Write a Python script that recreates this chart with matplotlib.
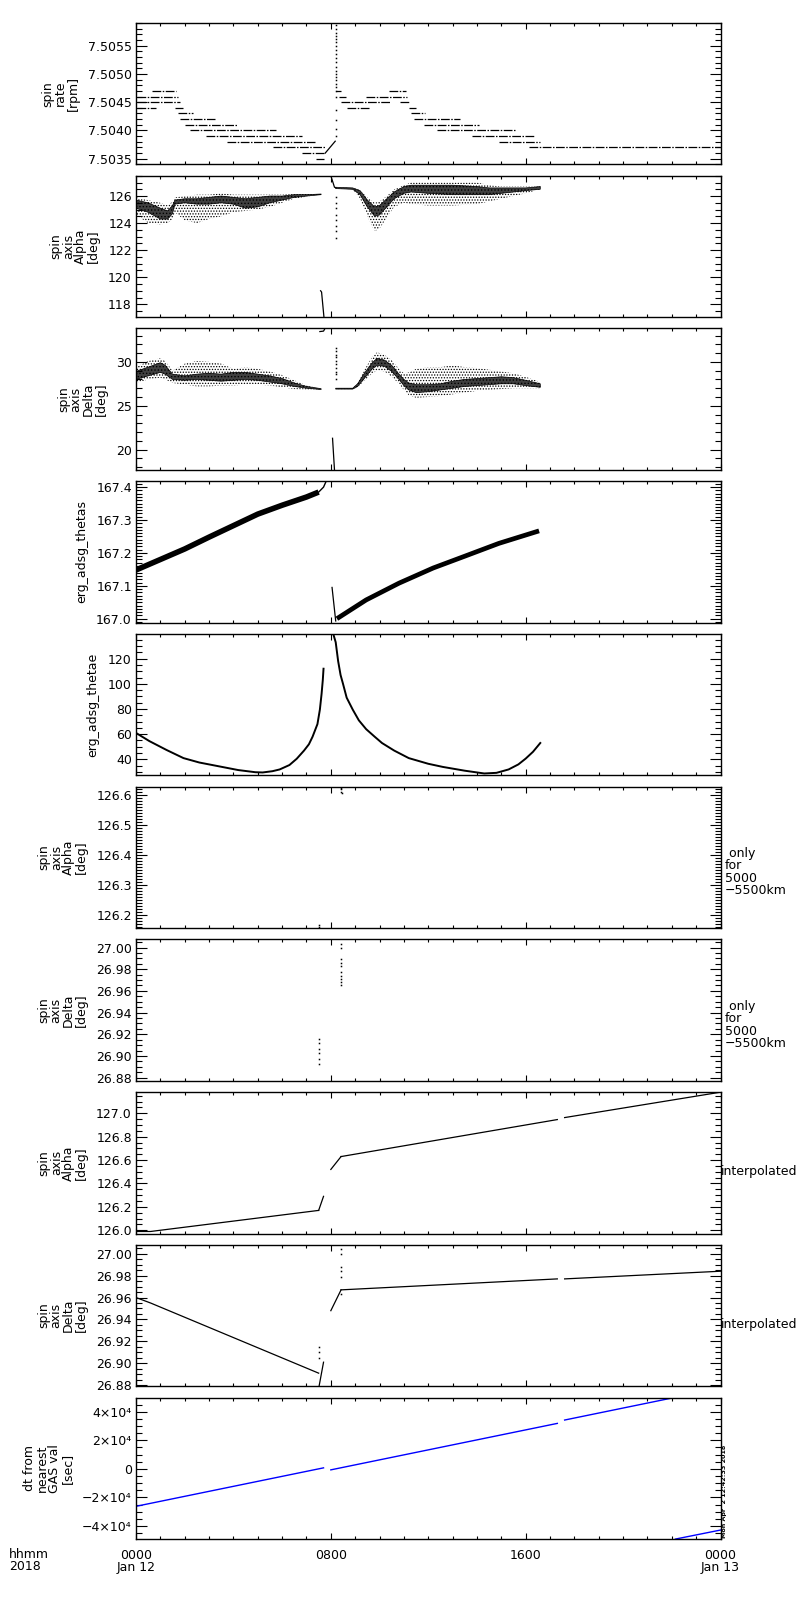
from matplotlib import pyplot as plt
from matplotlib.ticker import MultipleLocator, FormatStrFormatter, FixedLocator, FuncFormatter

plt.rcParams['font.family'] = ['DejaVu Sans']
plt.rcParams['font.size'] = 9
plt.rcParams['hatch.linewidth'] = 0.6

# ---- panel 1: spin rate [rpm], quantised horizontal runs
rate_level = [7.5047, 7.5046, 7.5045, 7.5044, 7.5044, 7.5043, 7.5042, 7.5041, 7.5040,
              7.5039, 7.5038, 7.5037, 7.5036, 7.5035,
              7.5047, 7.5046, 7.5045, 7.5044, 7.5047, 7.5046, 7.5045, 7.5044, 7.5043,
              7.5042, 7.5041, 7.5040, 7.5039, 7.5038, 7.5037]
rate_start = [0.64, 0.05, 0.05, 0.05, 1.60, 1.74, 1.81, 2.01, 2.22, 2.88, 3.73, 5.64, 6.81, 7.40,
              8.22, 8.32, 8.41, 8.66, 10.40, 9.45, 10.85, 11.19, 11.30, 11.40, 11.81, 12.36,
              13.80, 14.89, 16.12]
rate_end = [1.64, 1.74, 1.81, 0.81, 1.92, 2.36, 3.25, 4.14, 5.75, 6.81, 7.36, 7.77, 7.77, 7.73,
            8.41, 8.64, 10.47, 9.62, 11.10, 11.13, 11.26, 11.51, 11.88, 13.32, 14.10, 15.62,
            16.40, 16.60, 24.0]
rate_ramp_t = [7.77, 8.18]
rate_ramp_v = [7.50360, 7.50381]
rate_spike_v = [7.50586, 7.50579, 7.50573, 7.50567, 7.50562, 7.50556, 7.50550, 7.50543,
                7.50535, 7.50528, 7.50521, 7.50512, 7.50505, 7.50499, 7.50495, 7.50489,
                7.50483, 7.50476, 7.50469, 7.50460, 7.50437, 7.50419, 7.50402, 7.50391]

# ---- panel 2: spin axis alpha (GAS), dense core + scattered points
alpha_a_t = [0, 0.5, 1.0, 1.3, 1.5, 1.6, 2.0, 2.5, 3.0, 3.5, 4.0, 4.5, 5.0, 5.5, 6.0, 6.5, 7.0, 7.6]
alpha_a_core_hi = [125.7, 125.5, 125.1, 124.9, 125.3, 125.7, 125.8, 125.8, 125.9, 126.0, 125.9,
                   125.8, 125.9, 126.0, 126.0, 126.1, 126.1, 126.15]
alpha_a_core_lo = [125.1, 124.8, 124.3, 124.3, 124.7, 125.4, 125.5, 125.4, 125.4, 125.5, 125.4,
                   125.1, 125.2, 125.5, 125.7, 125.9, 126.0, 126.1]
alpha_a_scat_hi = [125.9, 125.7, 125.5, 125.3, 125.6, 125.9, 126.0, 126.1, 126.1, 126.2, 126.1,
                   126.1, 126.1, 126.1, 126.1, 126.15, 126.15, 126.15]
alpha_a_scat_lo = [124.6, 124.0, 123.9, 124.0, 124.3, 124.8, 124.2, 124.0, 124.3, 124.5, 124.8,
                   124.9, 125.0, 125.2, 125.5, 125.8, 125.95, 126.1]
alpha_b_t = [8.2, 8.9, 9.2, 9.5, 9.8, 10.0, 10.3, 10.6, 11.0, 11.3, 12.0, 13.0, 14.0, 14.5,
             15.0, 15.5, 16.0, 16.6]
alpha_b_core_hi = [126.65, 126.6, 126.4, 125.7, 125.2, 125.3, 125.8, 126.3, 126.7, 126.8, 126.8,
                   126.8, 126.7, 126.6, 126.6, 126.6, 126.6, 126.7]
alpha_b_core_lo = [126.55, 126.5, 126.1, 125.2, 124.5, 124.6, 125.2, 125.8, 126.2, 126.3, 126.2,
                   126.1, 126.1, 126.1, 126.2, 126.3, 126.4, 126.5]
alpha_b_scat_hi = [126.65, 126.6, 126.45, 125.9, 125.5, 125.6, 126.0, 126.5, 126.8, 127.0, 127.0,
                   127.0, 127.0, 126.8, 126.7, 126.7, 126.7, 126.7]
alpha_b_scat_lo = [126.55, 126.5, 125.8, 124.5, 123.4, 123.6, 124.4, 125.2, 125.5, 125.4, 125.3,
                   125.3, 125.4, 125.6, 125.8, 126.0, 126.2, 126.5]
alpha_drop_t = [7.58, 7.62, 7.72]
alpha_drop_v = [119.0, 118.9, 117.0]
alpha_top_t = [8.0, 8.15, 8.2]
alpha_top_v = [127.5, 126.65, 126.62]
alpha_spike_v = [125.9, 125.5, 125.1, 124.6, 124.2, 123.8, 123.4, 122.9]

# ---- panel 3: spin axis delta (GAS)
delta_a_t = [0, 0.5, 1.0, 1.2, 1.5, 2.0, 2.5, 3.0, 3.5, 4.0, 4.5, 5.0, 5.5, 6.0, 6.5, 7.0, 7.6]
delta_a_core_hi = [28.9, 29.4, 29.9, 29.6, 28.6, 28.4, 28.6, 28.7, 28.6, 28.8, 28.8, 28.6, 28.4,
                   28.1, 27.6, 27.2, 26.95]
delta_a_core_lo = [28.0, 28.4, 28.8, 28.6, 28.0, 27.9, 28.0, 27.9, 27.8, 27.9, 28.0, 27.9, 27.7,
                   27.5, 27.2, 27.0, 26.85]
delta_a_scat_hi = [29.4, 30.1, 30.4, 30.1, 29.0, 29.8, 30.1, 30.0, 29.8, 29.2, 29.4, 29.2, 28.9,
                   28.5, 27.9, 27.3, 26.95]
delta_a_scat_lo = [27.6, 28.0, 28.2, 28.0, 27.6, 27.4, 27.2, 27.2, 27.3, 27.3, 27.4, 27.4, 27.3,
                   27.1, 26.9, 26.85, 26.85]
delta_b_t = [8.2, 8.9, 9.1, 9.4, 9.7, 9.9, 10.2, 10.5, 10.8, 11.0, 11.2, 11.5, 12.0, 12.5, 13.0,
             13.5, 14.0, 14.5, 15.0, 15.5, 16.0, 16.6]
delta_b_core_hi = [27.0, 27.0, 27.5, 28.8, 29.9, 30.4, 30.2, 29.6, 28.6, 28.0, 27.6, 27.4, 27.4,
                   27.5, 27.8, 28.0, 28.1, 28.2, 28.3, 28.2, 27.9, 27.5]
delta_b_core_lo = [26.9, 26.9, 27.2, 28.2, 29.2, 29.6, 29.5, 28.9, 28.0, 27.3, 26.8, 26.5, 26.6,
                   26.8, 27.0, 27.2, 27.3, 27.4, 27.5, 27.5, 27.3, 27.1]
delta_b_scat_hi = [27.0, 27.0, 27.6, 29.2, 30.6, 31.1, 30.8, 30.2, 29.2, 28.7, 28.8, 29.2, 29.4,
                   29.4, 29.6, 29.4, 29.3, 29.1, 28.9, 28.7, 28.3, 27.7]
delta_b_scat_lo = [26.9, 26.9, 27.1, 27.9, 28.7, 29.0, 28.9, 28.3, 27.5, 26.8, 26.2, 25.9, 26.0,
                   26.1, 26.3, 26.5, 26.7, 26.8, 26.9, 27.0, 27.0, 27.0]
delta_top_t = [7.55, 7.7, 7.76]
delta_top_v = [33.45, 33.5, 33.8]
delta_drop_t = [8.07, 8.15]
delta_drop_v = [21.3, 17.7]
delta_spike_v = [31.6, 31.2, 30.8, 30.5, 30.1, 29.7, 29.3, 28.9, 28.6, 28.0]

# ---- panel 4: erg_adsg_thetas
thetas_a_t = [0, 1, 2, 3, 4, 5, 6, 7, 7.5, 7.7, 7.82]
thetas_a_v = [167.148, 167.18, 167.212, 167.248, 167.283, 167.318, 167.345, 167.37, 167.385,
              167.40, 167.42]
thetas_drop_t = [8.05, 8.2]
thetas_drop_v = [167.095, 166.993]
thetas_b_t = [8.25, 9.45, 10.8, 12.2, 13.5, 14.9, 16.55]
thetas_b_v = [167.0, 167.057, 167.108, 167.154, 167.19, 167.229, 167.267]

# ---- panel 5: erg_adsg_thetae
thetae_a_t = [0, 0.55, 1.25, 1.95, 2.6, 3.4, 4.2, 4.9, 5.2, 5.6, 5.9, 6.3, 6.6, 6.9, 7.1, 7.25,
              7.45, 7.55, 7.62, 7.67, 7.7]
thetae_a_v = [61, 54.5, 47.5, 41, 37.5, 34.5, 31.5, 29.8, 29.6, 30.6, 32, 35.5, 40.5, 47, 52, 58,
              68, 79.5, 92, 103, 112]
thetae_b_t = [8.1, 8.2, 8.3, 8.4, 8.5, 8.65, 8.9, 9.15, 9.45, 9.8, 10.1, 10.6, 11.2, 12.0, 12.6,
              13.5, 14.3, 14.8, 15.3, 15.7, 16.0, 16.3, 16.6]
thetae_b_v = [139.6, 133, 118, 107, 100, 89, 79.5, 71, 64, 58, 53, 47, 41, 36.5, 34, 31, 28.8,
              29.3, 32, 36, 40.6, 46, 53]

# ---- panels 6/7: only for 5000-5500 km
alpha_alt_t = [8.42, 8.42, 8.42, 8.44, 7.50, 7.52]
alpha_alt_v = [126.625, 126.620, 126.612, 126.607, 126.165, 126.160]
delta_alt_t = [8.42] * 10 + [7.50] * 6
delta_alt_v = [27.003, 27.000, 26.989, 26.986, 26.983, 26.977, 26.974, 26.971, 26.968, 26.965,
               26.916, 26.912, 26.906, 26.903, 26.897, 26.893]

# ---- panels 8/9: interpolated
interp_seg_t = [[0, 0.6, 7.5], [7.5, 7.7], [8.0, 8.42], [8.42, 17.3], [17.6, 24.0]]
alpha_interp_v = [[125.99, 125.99, 126.17], [126.17, 126.29], [126.52, 126.63],
                  [126.63, 126.946], [126.963, 127.18]]
delta_interp_v = [[26.96, 26.955, 26.891], [26.877, 26.901], [26.948, 26.967],
                  [26.967, 26.977], [26.977, 26.984]]
delta_interp_dot_t = [7.50, 7.50, 7.50, 8.42, 8.42, 8.42, 8.42, 8.42, 8.42]
delta_interp_dot_v = [26.915, 26.910, 26.905, 27.004, 27.000, 26.988, 26.984, 26.979, 26.963]

# ---- panel 10: dt from nearest GAS value [sec]
dt_seg_t = [[0, 7.7], [8.0, 17.3], [17.6, 22.05], [22.15, 24.0]]
dt_seg_v = [[-26200, 700], [-700, 31800], [34150, 49700], [-49100, -42800]]

xtick_hours = [0, 8, 16, 24]
xtick_labels = ['0000\nJan 12', '0800', '1600', '0000\nJan 13']


fig = plt.figure(figsize=(8, 16), dpi=100)

LEFT, RIGHT, TOP0, STEP, HGT = 136, 720.5, 23, 152.74, 141.4
axes = []
for i in range(10):
    top = TOP0 + i * STEP
    ax = fig.add_axes([LEFT / 800, 1 - (top + HGT) / 1600, (RIGHT - LEFT) / 800, HGT / 1600])
    axes.append(ax)


def style(ax, ylim, major, minor, fmt, label):
    ax.set_xlim(0, 24)
    ax.set_ylim(*ylim)
    ax.xaxis.set_major_locator(FixedLocator(xtick_hours))
    ax.xaxis.set_minor_locator(MultipleLocator(1))
    ax.yaxis.set_major_locator(MultipleLocator(major))
    ax.yaxis.set_minor_locator(MultipleLocator(minor))
    if isinstance(fmt, str):
        ax.yaxis.set_major_formatter(FormatStrFormatter(fmt))
    else:
        ax.yaxis.set_major_formatter(fmt)
    ax.tick_params(which='both', direction='in', top=True, right=True, width=0.8, pad=3)
    ax.tick_params(axis='y', which='major', length=8)
    ax.tick_params(axis='y', which='minor', length=4.3)
    ax.tick_params(axis='x', which='major', length=4)
    ax.tick_params(axis='x', which='minor', length=2)
    ax.set_xticklabels([])
    for s in ax.spines.values():
        s.set_linewidth(1.0)
    ax.set_ylabel(label, linespacing=0.95, labelpad=6)


def band(ax, t, clo, chi, slo, shi):
    # scattered samples as a dotted hatch, dense core darker
    ax.fill_between(t, slo, shi, facecolor='none', edgecolor='black', hatch='......', linewidth=0)
    ax.fill_between(t, clo, chi, facecolor='0.25', edgecolor='black', hatch='.....', linewidth=0.5)


def dots(ax, t, v):
    ax.plot(t, v, 's', color='black', ms=1.1, mew=0)


# panel 1
ax = axes[0]
for lv, t0, t1 in zip(rate_level, rate_start, rate_end):
    ax.plot([t0, t1], [lv, lv], color='black', lw=0.9, dashes=(7, 1.2, 1.2, 1.2))
ax.plot(rate_ramp_t, rate_ramp_v, color='black', lw=0.9)
dots(ax, [8.2] * len(rate_spike_v), rate_spike_v)
style(ax, (7.50340, 7.50590), 0.0005, 0.0001, '%.4f', 'spin\nrate\n[rpm]')

# panel 2
ax = axes[1]
band(ax, alpha_a_t, alpha_a_core_lo, alpha_a_core_hi, alpha_a_scat_lo, alpha_a_scat_hi)
band(ax, alpha_b_t, alpha_b_core_lo, alpha_b_core_hi, alpha_b_scat_lo, alpha_b_scat_hi)
ax.plot(alpha_drop_t, alpha_drop_v, color='black', lw=0.9)
ax.plot(alpha_top_t, alpha_top_v, color='black', lw=0.9)
dots(ax, [8.22] * len(alpha_spike_v), alpha_spike_v)
style(ax, (117.05, 127.5), 2, 0.5, '%d', 'spin\naxis\nAlpha\n[deg]')

# panel 3
ax = axes[2]
band(ax, delta_a_t, delta_a_core_lo, delta_a_core_hi, delta_a_scat_lo, delta_a_scat_hi)
band(ax, delta_b_t, delta_b_core_lo, delta_b_core_hi, delta_b_scat_lo, delta_b_scat_hi)
ax.plot(delta_top_t, delta_top_v, color='black', lw=0.9)
ax.plot(delta_drop_t, delta_drop_v, color='black', lw=0.9)
dots(ax, [8.22] * len(delta_spike_v), delta_spike_v)
style(ax, (17.7, 33.8), 5, 1, '%d', 'spin\naxis\nDelta\n[deg]')

# panel 4
ax = axes[3]
ax.plot(thetas_a_t[:-2], thetas_a_v[:-2], color='black', lw=4.0, solid_capstyle='butt')
ax.plot(thetas_a_t[-3:], thetas_a_v[-3:], color='black', lw=1.0)
ax.plot(thetas_drop_t, thetas_drop_v, color='black', lw=0.9)
ax.plot(thetas_b_t, thetas_b_v, color='black', lw=3.4, solid_capstyle='butt')
style(ax, (166.988, 167.418), 0.1, 0.01, '%.1f', 'erg_adsg_thetas')

# panel 5
ax = axes[4]
ax.plot(thetae_a_t, thetae_a_v, color='black', lw=1.4)
ax.plot(thetae_b_t, thetae_b_v, color='black', lw=1.4)
style(ax, (27.3, 139.6), 20, 5, '%d', 'erg_adsg_thetae')

# panel 6
ax = axes[5]
dots(ax, alpha_alt_t, alpha_alt_v)
style(ax, (126.156, 126.629), 0.1, 0.01, '%.1f', 'spin\naxis\nAlpha\n[deg]')
ax.text(1.008, 0.395, ' only\nfor\n5000\n\u22125500km', transform=ax.transAxes,
        ha='left', va='center', linespacing=0.95)

# panel 7
ax = axes[6]
dots(ax, delta_alt_t, delta_alt_v)
style(ax, (26.877, 27.0075), 0.02, 0.005, '%.2f', 'spin\naxis\nDelta\n[deg]')
ax.text(1.008, 0.395, ' only\nfor\n5000\n\u22125500km', transform=ax.transAxes,
        ha='left', va='center', linespacing=0.95)

# panel 8
ax = axes[7]
for t, v in zip(interp_seg_t, alpha_interp_v):
    ax.plot(t, v, color='black', lw=0.9)
style(ax, (125.972, 127.18), 0.2, 0.05, '%.1f', 'spin\naxis\nAlpha\n[deg]')
ax.text(1.0, 0.44, 'interpolated', transform=ax.transAxes, ha='left', va='center')

# panel 9
ax = axes[8]
for t, v in zip(interp_seg_t, delta_interp_v):
    ax.plot(t, v, color='black', lw=0.9)
dots(ax, delta_interp_dot_t, delta_interp_dot_v)
style(ax, (26.879, 27.008), 0.02, 0.005, '%.2f', 'spin\naxis\nDelta\n[deg]')
ax.text(1.0, 0.44, 'interpolated', transform=ax.transAxes, ha='left', va='center')

# panel 10
ax = axes[9]
for t, v in zip(dt_seg_t, dt_seg_v):
    ax.plot(t, v, color='#0000ff', lw=1.0)


def sci_fmt(v, pos):
    if abs(v) < 1:
        return '0'
    m = int(round(v / 1e4))
    return ('\u2212' if m < 0 else '') + '%d\u00d710\u2074' % abs(m)


style(ax, (-49100, 49800), 20000, 5000, FuncFormatter(sci_fmt), 'dt from\nnearest\nGAS val\n[sec]')
ax.set_xticks(xtick_hours)
ax.set_xticklabels(xtick_labels, linespacing=0.95)
ax.tick_params(axis='x', which='major', pad=7)

fig.text(9 / 800, 1 - 1548 / 1600, 'hhmm\n2018', ha='left', va='top', linespacing=0.95)
fig.text(722 / 800, 1 - 1538 / 1600, 'Mon Apr  2 12:42:33 2018', rotation=90,
         ha='left', va='bottom', fontsize=4.6, fontweight='bold')

fig.savefig('out.png', dpi=100)
